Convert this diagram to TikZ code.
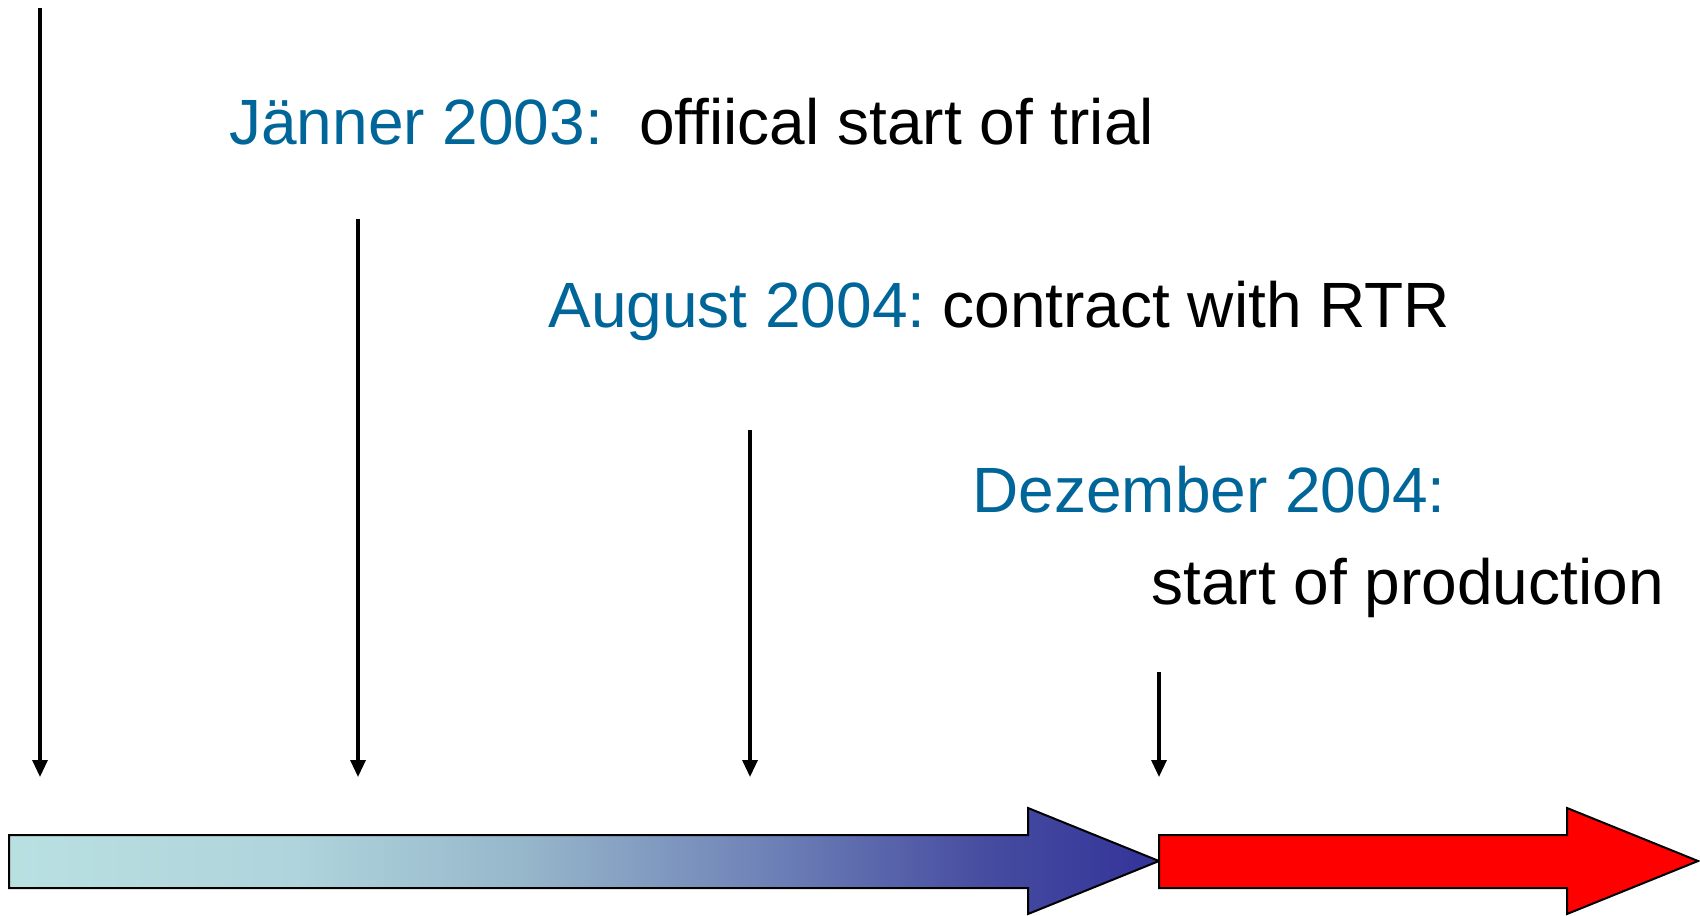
\documentclass[tikz,border=0pt]{standalone}
\usepackage{fontspec}
\setmainfont{Liberation Sans}
\usetikzlibrary{arrows.meta}
\definecolor{dateblue}{RGB}{0,102,153}
\definecolor{gradA}{RGB}{185,224,225}
\definecolor{gradB}{RGB}{175,212,220}
\definecolor{gradC}{RGB}{150,182,202}
\definecolor{gradD}{RGB}{112,132,184}
\definecolor{gradE}{RGB}{70,76,160}
\definecolor{gradF}{RGB}{51,51,153}
\definecolor{prodred}{RGB}{255,0,0}
\pgfdeclarehorizontalshading{timelineshade}{100bp}{color(0bp)=(gradA); color(25bp)=(gradA); color(37.5bp)=(gradB); color(47.5bp)=(gradC); color(57.5bp)=(gradD); color(67.5bp)=(gradE); color(75bp)=(gradF); color(100bp)=(gradF)}
\begin{document}
\begin{tikzpicture}[x=0.5pt,y=-0.5pt,
  datetext/.style={anchor=base west,inner sep=0pt,text=dateblue,font=\fontsize{32}{38}\selectfont},
  desctext/.style={anchor=base west,inner sep=0pt,text=black,font=\fontsize{32}{38}\selectfont},
  marker/.style={line width=1.6pt,-{Triangle[width=7.5pt,length=8.5pt]}},
  bigarrow/.style={draw=black,line width=1pt,line join=miter}]
\useasboundingbox (0,0) rectangle (1700,915);

% timeline arrows
\shade[bigarrow,shading=timelineshade]
  (9,835) -- (1028,835) -- (1028,808) -- (1159,861) -- (1028,914) -- (1028,888) -- (9,888) -- cycle;
\filldraw[bigarrow,fill=prodred]
  (1159,835) -- (1567,835) -- (1567,808) -- (1698,861) -- (1567,914) -- (1567,888) -- (1159,888) -- cycle;

% marker coordinates
\coordinate (m1s) at (40,8);    \coordinate (m1e) at (40,777);
\coordinate (m2s) at (358,219); \coordinate (m2e) at (358,777);
\coordinate (m3s) at (750,430); \coordinate (m3e) at (750,777);
\coordinate (m4s) at (1159,672);\coordinate (m4e) at (1159,777);
\draw[marker] (m1s) -- (m1e);
\draw[marker] (m2s) -- (m2e);
\draw[marker] (m3s) -- (m3e);
\draw[marker] (m4s) -- (m4e);

% texts
\node[datetext] (d1) at (229,144) {Jänner 2003:};
\node[desctext] (t1) at (639,144) {offiical start of trial};
\node[datetext] (d2) at (548,327) {August 2004:};
\node[desctext] (t2) at (942,327) {contract with RTR};
\node[datetext] (d3) at (972,512) {Dezember 2004:};
\node[desctext] (t3) at (1151,604) {start of production};
\end{tikzpicture}
\end{document}
